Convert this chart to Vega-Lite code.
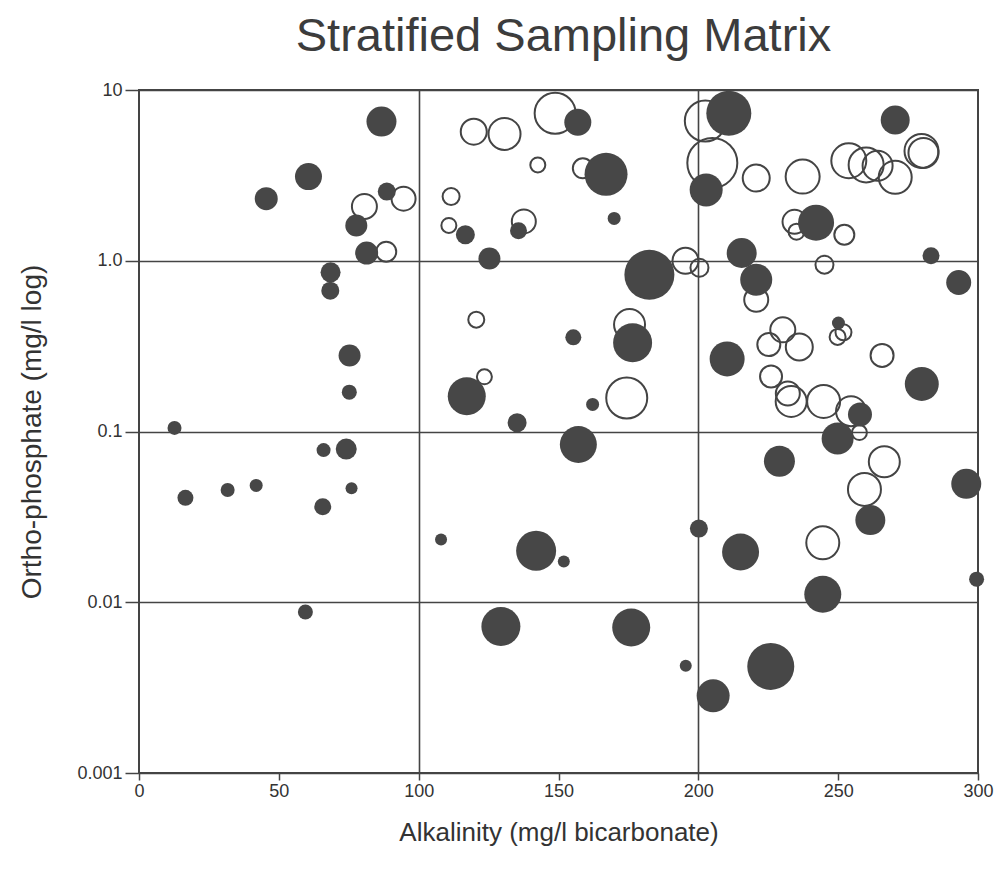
{
  "$schema": "https://vega.github.io/schema/vega-lite/v6.json",
  "autosize": {"type": "none"},
  "padding": {"left": 139, "top": 90, "right": 19, "bottom": 98},
  "width": 839,
  "height": 683,
  "background": "white",
  "title": {
    "text": "Stratified Sampling Matrix",
    "font": "Liberation Sans",
    "fontSize": 47,
    "fontWeight": "normal",
    "color": "#3c3c3c",
    "anchor": "middle",
    "offset": 20,
    "dx": 5
  },
  "config": {
    "view": {"stroke": "#444444", "strokeWidth": 2},
    "axis": {
      "labelFont": "Liberation Sans",
      "titleFont": "Liberation Sans",
      "labelColor": "#333333",
      "titleColor": "#333333",
      "titleFontWeight": "normal",
      "tickColor": "#444444",
      "tickWidth": 1.5,
      "gridColor": "#444444",
      "gridWidth": 1.6,
      "domain": false,
      "labelFlush": false
    }
  },
  "data": {
    "values": [
      {"alk": 86.7, "po4": 6.53, "n": 30, "status": "sampled"},
      {"alk": 60.6, "po4": 3.11, "n": 27, "status": "sampled"},
      {"alk": 45.5, "po4": 2.31, "n": 23, "status": "sampled"},
      {"alk": 80.6, "po4": 2.08, "n": 25, "status": "unsampled"},
      {"alk": 88.6, "po4": 2.54, "n": 18, "status": "sampled"},
      {"alk": 94.6, "po4": 2.31, "n": 24, "status": "unsampled"},
      {"alk": 77.7, "po4": 1.61, "n": 22, "status": "sampled"},
      {"alk": 81.4, "po4": 1.11, "n": 23, "status": "sampled"},
      {"alk": 88.4, "po4": 1.13, "n": 20, "status": "unsampled"},
      {"alk": 68.5, "po4": 0.855, "n": 20, "status": "sampled"},
      {"alk": 68.4, "po4": 0.668, "n": 18, "status": "sampled"},
      {"alk": 75.3, "po4": 0.279, "n": 22, "status": "sampled"},
      {"alk": 75.2, "po4": 0.17, "n": 15, "status": "sampled"},
      {"alk": 12.7, "po4": 0.105, "n": 14, "status": "sampled"},
      {"alk": 66.0, "po4": 0.0778, "n": 14, "status": "sampled"},
      {"alk": 74.1, "po4": 0.0789, "n": 21, "status": "sampled"},
      {"alk": 16.6, "po4": 0.0409, "n": 16, "status": "sampled"},
      {"alk": 31.7, "po4": 0.0454, "n": 14, "status": "sampled"},
      {"alk": 41.9, "po4": 0.0483, "n": 13, "status": "sampled"},
      {"alk": 76.0, "po4": 0.0465, "n": 12, "status": "sampled"},
      {"alk": 65.7, "po4": 0.0363, "n": 17, "status": "sampled"},
      {"alk": 59.5, "po4": 0.00877, "n": 15, "status": "sampled"},
      {"alk": 148.8, "po4": 7.31, "n": 41, "status": "unsampled"},
      {"alk": 156.9, "po4": 6.47, "n": 27, "status": "sampled"},
      {"alk": 119.7, "po4": 5.7, "n": 26, "status": "unsampled"},
      {"alk": 130.7, "po4": 5.53, "n": 32, "status": "unsampled"},
      {"alk": 142.6, "po4": 3.64, "n": 15, "status": "unsampled"},
      {"alk": 158.7, "po4": 3.48, "n": 20, "status": "unsampled"},
      {"alk": 167.0, "po4": 3.21, "n": 43, "status": "sampled"},
      {"alk": 169.9, "po4": 1.77, "n": 13, "status": "sampled"},
      {"alk": 111.6, "po4": 2.38, "n": 17, "status": "unsampled"},
      {"alk": 110.8, "po4": 1.61, "n": 15, "status": "unsampled"},
      {"alk": 116.7, "po4": 1.42, "n": 19, "status": "sampled"},
      {"alk": 137.6, "po4": 1.7, "n": 24, "status": "unsampled"},
      {"alk": 135.7, "po4": 1.5, "n": 17, "status": "sampled"},
      {"alk": 125.3, "po4": 1.03, "n": 22, "status": "sampled"},
      {"alk": 182.5, "po4": 0.828, "n": 50, "status": "sampled"},
      {"alk": 195.4, "po4": 1.0, "n": 26, "status": "unsampled"},
      {"alk": 200.4, "po4": 0.91, "n": 18, "status": "unsampled"},
      {"alk": 120.6, "po4": 0.452, "n": 16, "status": "unsampled"},
      {"alk": 155.3, "po4": 0.356, "n": 16, "status": "sampled"},
      {"alk": 175.4, "po4": 0.423, "n": 31, "status": "unsampled"},
      {"alk": 176.5, "po4": 0.331, "n": 39, "status": "sampled"},
      {"alk": 123.5, "po4": 0.209, "n": 15, "status": "unsampled"},
      {"alk": 117.2, "po4": 0.161, "n": 38, "status": "sampled"},
      {"alk": 135.2, "po4": 0.1125, "n": 19, "status": "sampled"},
      {"alk": 162.2, "po4": 0.144, "n": 13, "status": "sampled"},
      {"alk": 174.4, "po4": 0.157, "n": 41, "status": "unsampled"},
      {"alk": 157.1, "po4": 0.0839, "n": 37, "status": "sampled"},
      {"alk": 108.0, "po4": 0.0233, "n": 12, "status": "sampled"},
      {"alk": 142.0, "po4": 0.02, "n": 40, "status": "sampled"},
      {"alk": 151.9, "po4": 0.0173, "n": 12, "status": "sampled"},
      {"alk": 129.4, "po4": 0.00721, "n": 39, "status": "sampled"},
      {"alk": 176.0, "po4": 0.00711, "n": 38, "status": "sampled"},
      {"alk": 195.5, "po4": 0.00425, "n": 12, "status": "sampled"},
      {"alk": 205.3, "po4": 0.00283, "n": 33, "status": "sampled"},
      {"alk": 225.9, "po4": 0.00421, "n": 47, "status": "sampled"},
      {"alk": 202.5, "po4": 6.59, "n": 41, "status": "unsampled"},
      {"alk": 205.0, "po4": 3.74, "n": 50, "status": "unsampled"},
      {"alk": 210.9, "po4": 7.31, "n": 45, "status": "sampled"},
      {"alk": 202.8, "po4": 2.6, "n": 33, "status": "sampled"},
      {"alk": 220.7, "po4": 3.05, "n": 27, "status": "unsampled"},
      {"alk": 237.3, "po4": 3.11, "n": 34, "status": "unsampled"},
      {"alk": 253.8, "po4": 3.85, "n": 35, "status": "unsampled"},
      {"alk": 260.0, "po4": 3.64, "n": 35, "status": "unsampled"},
      {"alk": 264.1, "po4": 3.6, "n": 30, "status": "unsampled"},
      {"alk": 270.4, "po4": 3.08, "n": 33, "status": "unsampled"},
      {"alk": 270.4, "po4": 6.68, "n": 29, "status": "sampled"},
      {"alk": 279.8, "po4": 4.4, "n": 34, "status": "unsampled"},
      {"alk": 280.5, "po4": 4.28, "n": 30, "status": "unsampled"},
      {"alk": 234.4, "po4": 1.69, "n": 24, "status": "unsampled"},
      {"alk": 235.1, "po4": 1.48, "n": 16, "status": "unsampled"},
      {"alk": 242.1, "po4": 1.67, "n": 36, "status": "sampled"},
      {"alk": 252.2, "po4": 1.42, "n": 20, "status": "unsampled"},
      {"alk": 215.5, "po4": 1.11, "n": 30, "status": "sampled"},
      {"alk": 245.1, "po4": 0.948, "n": 18, "status": "unsampled"},
      {"alk": 283.2, "po4": 1.07, "n": 17, "status": "sampled"},
      {"alk": 220.7, "po4": 0.774, "n": 32, "status": "sampled"},
      {"alk": 220.7, "po4": 0.591, "n": 24, "status": "unsampled"},
      {"alk": 293.1, "po4": 0.746, "n": 25, "status": "sampled"},
      {"alk": 230.2, "po4": 0.394, "n": 25, "status": "unsampled"},
      {"alk": 225.2, "po4": 0.323, "n": 23, "status": "unsampled"},
      {"alk": 236.1, "po4": 0.313, "n": 27, "status": "unsampled"},
      {"alk": 250.1, "po4": 0.432, "n": 13, "status": "sampled"},
      {"alk": 251.9, "po4": 0.381, "n": 16, "status": "unsampled"},
      {"alk": 249.8, "po4": 0.358, "n": 16, "status": "unsampled"},
      {"alk": 265.7, "po4": 0.279, "n": 23, "status": "unsampled"},
      {"alk": 210.3, "po4": 0.266, "n": 35, "status": "sampled"},
      {"alk": 226.0, "po4": 0.21, "n": 22, "status": "unsampled"},
      {"alk": 232.0, "po4": 0.167, "n": 24, "status": "unsampled"},
      {"alk": 233.2, "po4": 0.15, "n": 31, "status": "unsampled"},
      {"alk": 244.8, "po4": 0.15, "n": 33, "status": "unsampled"},
      {"alk": 254.6, "po4": 0.1315, "n": 30, "status": "unsampled"},
      {"alk": 257.8, "po4": 0.1256, "n": 24, "status": "sampled"},
      {"alk": 257.6, "po4": 0.0986, "n": 15, "status": "unsampled"},
      {"alk": 249.8, "po4": 0.091, "n": 32, "status": "sampled"},
      {"alk": 279.9, "po4": 0.19, "n": 34, "status": "sampled"},
      {"alk": 229.0, "po4": 0.067, "n": 31, "status": "sampled"},
      {"alk": 266.5, "po4": 0.0665, "n": 31, "status": "unsampled"},
      {"alk": 259.4, "po4": 0.0458, "n": 33, "status": "unsampled"},
      {"alk": 261.5, "po4": 0.0303, "n": 30, "status": "sampled"},
      {"alk": 295.8, "po4": 0.0494, "n": 30, "status": "sampled"},
      {"alk": 200.2, "po4": 0.027, "n": 18, "status": "sampled"},
      {"alk": 215.1, "po4": 0.0197, "n": 37, "status": "sampled"},
      {"alk": 244.5, "po4": 0.0223, "n": 33, "status": "unsampled"},
      {"alk": 244.5, "po4": 0.01114, "n": 37, "status": "sampled"},
      {"alk": 299.5, "po4": 0.01365, "n": 15, "status": "sampled"}
    ]
  },
  "encoding": {
    "x": {
      "field": "alk",
      "type": "quantitative",
      "scale": {"domain": [0, 300], "nice": false, "zero": false},
      "axis": {
        "title": "Alkalinity (mg/l bicarbonate)",
        "values": [0, 50, 100, 150, 200, 250, 300],
        "tickSize": 7,
        "labelFontSize": 18,
        "labelPadding": 2,
        "titleFontSize": 26,
        "titleY": 59,
        "titleBaseline": "middle",
        "grid": true,
        "gridOpacity": {"condition": {"test": "datum.value === 100 || datum.value === 200", "value": 1}, "value": 0}
      }
    },
    "y": {
      "field": "po4",
      "type": "quantitative",
      "scale": {"type": "log", "domain": [0.001, 10], "nice": false},
      "axis": {
        "title": "Ortho-phosphate (mg/l log)",
        "values": [0.001, 0.01, 0.1, 1, 10],
        "labelExpr": "datum.value >= 9 ? '10' : datum.value >= 0.9 ? '1.0' : datum.value >= 0.09 ? '0.1' : datum.value >= 0.009 ? '0.01' : '0.001'",
        "tickSize": 14,
        "labelFontSize": 18,
        "labelPadding": 3,
        "titleFontSize": 28,
        "titleX": -107,
        "titleBaseline": "middle",
        "grid": true
      }
    },
    "size": {
      "field": "n",
      "type": "quantitative",
      "scale": {"type": "pow", "exponent": 2, "domain": [0, 50], "range": [0, 2500]},
      "legend": null
    }
  },
  "layer": [
    {
      "transform": [{"filter": "datum.status === 'unsampled'"}],
      "mark": {"type": "point", "shape": "circle", "filled": false, "stroke": "#444444", "strokeWidth": 2, "opacity": 1}
    },
    {
      "transform": [{"filter": "datum.status === 'sampled'"}],
      "mark": {"type": "point", "shape": "circle", "filled": true, "fill": "#474747", "strokeWidth": 0, "opacity": 1}
    }
  ]
}
